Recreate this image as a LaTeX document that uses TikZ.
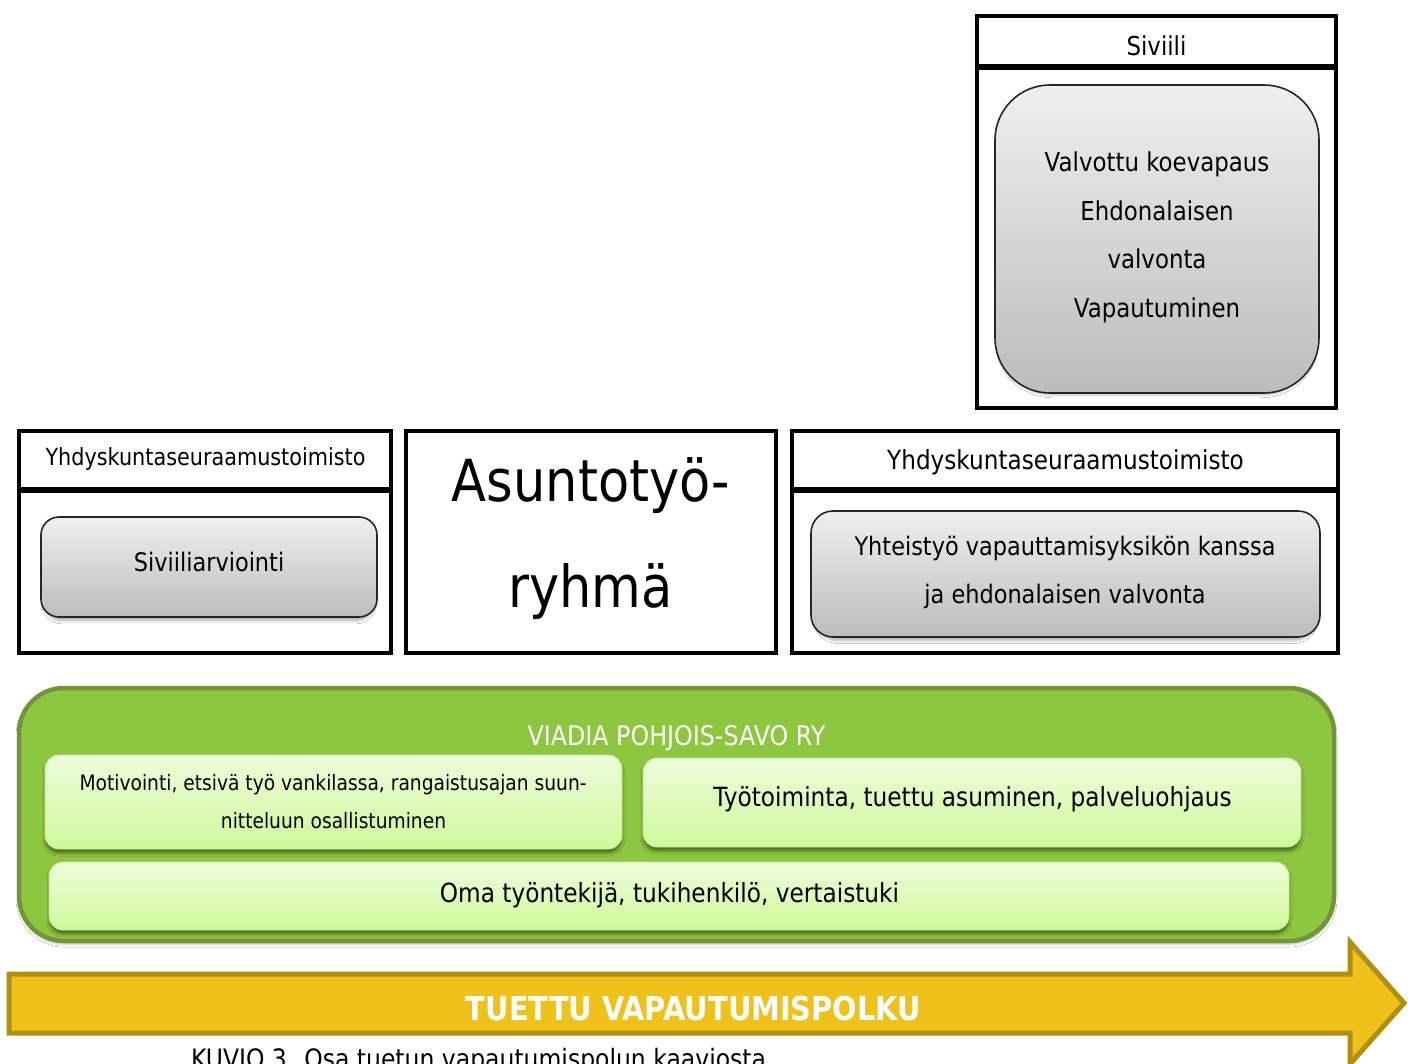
\documentclass[tikz,border=0pt]{standalone}
\usepackage{fontspec}
\setmainfont{DejaVu Sans}[FakeStretch=0.88]
\usetikzlibrary{shadows,shadows.blur}
\definecolor{grTop}{HTML}{EFEFEF}
\definecolor{grBot}{HTML}{BCBCBC}
\definecolor{gMain}{HTML}{8DC63F}
\definecolor{gBorder}{HTML}{73953A}
\definecolor{lgTop}{HTML}{EDFDDC}
\definecolor{lgBot}{HTML}{D0F89A}
\definecolor{arFill}{HTML}{EEC21A}
\definecolor{arBorder}{HTML}{B38F10}
\newcommand{\fs}[1]{\fontsize{#1}{#1}\selectfont}
\begin{document}
\begin{tikzpicture}[x=1pt,y=-1pt,
  frame/.style={draw=black, line width=4.5pt, fill=white, inner sep=0pt, outer sep=0pt},
  divider/.style={draw=black, line width=6pt},
  graybox/.style={draw=black!85, line width=1.6pt, rounded corners=#1, top color=grTop, bottom color=grBot,
     inner sep=0pt, outer sep=0pt,
     blur shadow={shadow xshift=0pt, shadow yshift=-5pt, shadow blur radius=3pt, shadow opacity=30, shadow scale=0.98}},
  lgbox/.style={draw=lgBot!85!gMain, line width=0.8pt, rounded corners=14pt, top color=lgTop, bottom color=lgBot,
     inner sep=0pt, outer sep=0pt,
     blur shadow={shadow xshift=0pt, shadow yshift=-4pt, shadow blur radius=3pt, shadow opacity=45}},
  txt/.style={anchor=base, inner sep=0pt, text=black}
]
\useasboundingbox (0,0) rectangle (1408,1063);
\fill[white] (0,0) rectangle (1408,1063);

% ---------- Siviili ----------
\node[frame, minimum width=359pt, minimum height=392pt] (sivF) at (1156.5,212) {};
\draw[divider] (sivF.west |- 0,67) -- (sivF.east |- 0,67);
\node[txt, font=\fs{26}] (sivH) at (1156.5,55) {Siviili};
\node[graybox=55pt, minimum width=324pt, minimum height=308pt] (sivG) at (1157,239) {};
\node[txt, font=\fs{26}] (v1) at (1157,171) {Valvottu koevapaus};
\node[txt, font=\fs{26}] (v2) at (1157,220) {Ehdonalaisen};
\node[txt, font=\fs{26}] (v3) at (1157,268.5) {valvonta};
\node[txt, font=\fs{26}] (v4) at (1157,317) {Vapautuminen};

% ---------- Left box ----------
\node[frame, minimum width=372pt, minimum height=222pt] (leftF) at (205,542) {};
\draw[divider] (leftF.west |- 0,490) -- (leftF.east |- 0,490);
\node[txt, font=\fs{23.6}] (leftH) at (205.5,465) {Yhdyskuntaseuraamustoimisto};
\node[graybox=18pt, minimum width=336pt, minimum height=100pt] (leftG) at (209,567) {};
\node[txt, font=\fs{25.5}] (leftT) at (209,571) {Siviiliarviointi};

% ---------- Middle box ----------
\node[frame, minimum width=370pt, minimum height=222pt] (midF) at (591,542) {};
\node[txt, font=\fs{58}] (mid1) at (591,501) {Asuntotyö-};
\node[txt, font=\fs{58}] (mid2) at (590.5,607) {ryhmä};

% ---------- Right box ----------
\node[frame, minimum width=546pt, minimum height=222pt] (rightF) at (1065,542) {};
\draw[divider] (rightF.west |- 0,490) -- (rightF.east |- 0,490);
\node[txt, font=\fs{26.3}] (rightH) at (1065.5,469) {Yhdyskuntaseuraamustoimisto};
\node[graybox=22pt, minimum width=509pt, minimum height=126pt] (rightG) at (1065.5,574) {};
\node[txt, font=\fs{25.5}] (r1) at (1065,555) {Yhteistyö vapauttamisyksikön kanssa};
\node[txt, font=\fs{25.5}] (r2) at (1065,603.5) {ja ehdonalaisen valvonta};

% ---------- Viadia ----------
\node[draw=gBorder, line width=4.5pt, fill=gMain, rounded corners=45pt, inner sep=0pt, outer sep=0pt,
      minimum width=1315pt, minimum height=253pt,
      blur shadow={shadow xshift=0pt, shadow yshift=-3pt, shadow blur radius=3pt, shadow opacity=25}]
      (viadia) at (676.5,814.5) {};
\node[txt, font=\fs{27}, text=white] (viaT) at (676.5,745) {VIADIA POHJOIS-SAVO RY};
\node[lgbox, minimum width=577pt, minimum height=94pt] (motB) at (333.5,802) {};
\node[txt, font=\fs{21.2}] (mot1) at (333,790.5) {Motivointi, etsivä työ vankilassa, rangaistusajan suun-};
\node[txt, font=\fs{21.2}] (mot2) at (333.5,828.5) {nitteluun osallistuminen};
\node[lgbox, minimum width=658pt, minimum height=89pt] (tyoB) at (972,802.5) {};
\node[txt, font=\fs{26.4}] (tyoT) at (972.5,806) {Työtoiminta, tuettu asuminen, palveluohjaus};
\node[lgbox, minimum width=1240pt, minimum height=68pt] (omaB) at (669,896) {};
\node[txt, font=\fs{26.4}] (omaT) at (669.5,902) {Oma työntekijä, tukihenkilö, vertaistuki};

% ---------- Arrow ----------
\coordinate (a1) at (9,974);
\coordinate (a2) at (1350,974);
\coordinate (a3) at (1350,942);
\coordinate (a4) at (1404,1003);
\coordinate (a5) at (1350,1064);
\coordinate (a6) at (1350,1033);
\coordinate (a7) at (9,1033);
\draw[fill=arFill, draw=arBorder, line width=5pt, line join=miter]
  (a1) -- (a2) -- (a3) -- (a4) -- (a5) -- (a6) -- (a7) -- cycle;
\node[txt, font=\bfseries\fs{32.8}, text=white] (arT) at (693.5,1020) {TUETTU VAPAUTUMISPOLKU};

% ---------- Caption (cut off by the page edge, as in the reference) ----------
\node[txt, font=\fs{26.7}] (cap) at (478.5,1068.5) {KUVIO 3. Osa tuetun vapautumispolun kaaviosta};
\end{tikzpicture}
\end{document}
